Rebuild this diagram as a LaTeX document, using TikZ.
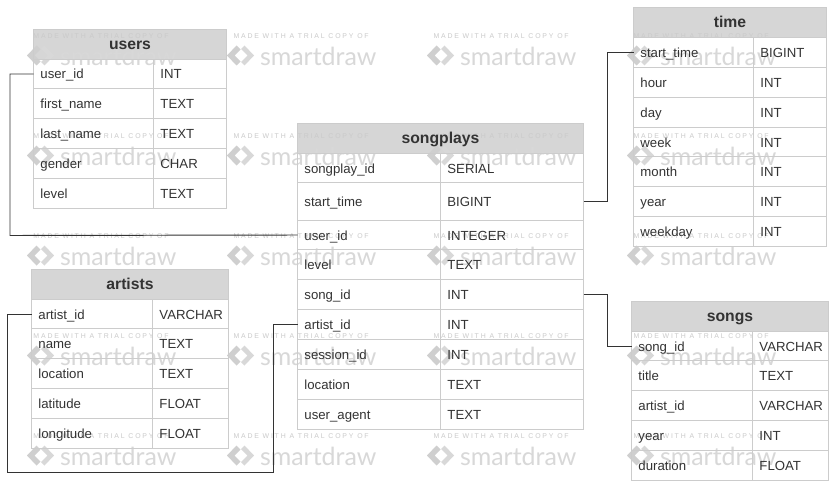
\documentclass[tikz,border=0pt]{standalone}
\usepackage{fontspec}
\setmainfont{Liberation Sans}
\newfontfamily\wmsmall[LetterSpace=26]{Liberation Sans}
\newfontfamily\wmbig{Lato}
\catcode`\_=12
\definecolor{grid}{HTML}{CCCCCC}
\definecolor{head}{HTML}{D6D6D6}
\definecolor{ink}{HTML}{333333}
\definecolor{wmark}{HTML}{D8D8D8}
\definecolor{wmarkb}{HTML}{CFCFCF}
\definecolor{wmtext}{HTML}{CACACA}
\tikzset{
  every node/.style={inner sep=0pt,outer sep=0pt},
  cell/.style={draw=grid,line width=0.72pt,anchor=north west,font=\fontsize{9.9}{12}\selectfont,text=ink,
    inner xsep=5.2pt,align=left,text height=10pt,text depth=2.5pt},
  headcell/.style={draw=grid,line width=0.72pt,anchor=north west,font=\bfseries\fontsize{11.8}{14}\selectfont,text=ink,
    align=center,text height=9.4pt,text depth=2.5pt},
  link/.style={draw=ink,line width=0.72pt,line join=miter},
  wmtop/.style={anchor=west,text=wmtext,font=\wmsmall\fontsize{5.2}{6}\selectfont},
  wmlogo/.style={anchor=base west,text=wmark,font=\wmbig\fontsize{18.7}{22}\selectfont},
}
% \tablebox{id}{x0}{x1}{x2}{top}{header bottom}{title}{rows: bottom/field/type}
\newcommand{\tablebox}[8]{%
  \pgfmathsetmacro{\wA}{(#3-#2)*0.75}%
  \pgfmathsetmacro{\wB}{(#4-#3)*0.75}%
  \pgfmathsetmacro{\wH}{(#4-#2)*0.75}%
  \pgfmathsetmacro{\hH}{(#6-#5)*0.75}%
  \node[headcell,minimum width=\wH pt,minimum height=\hH pt,text width=\wH pt] (#1-head) at (#2,#5) {#7};
  \foreach \bot/\fld/\typ [remember=\bot as \prev (initially #6)] in {#8}{%
    \pgfmathsetmacro{\hR}{(\bot-\prev)*0.75}%
    \node[cell,minimum height=\hR pt,text width=\wA pt-10.4pt] (#1-\fld) at (#2,\prev) {\fld};
    \node[cell,minimum height=\hR pt,text width=\wB pt-10.4pt] (#1-\fld-type) at (#3,\prev) {\typ};
  }%
}
\newcommand{\headfill}[4]{\fill[head] (#1,#3) rectangle (#2,#4);}
\begin{document}
\begin{tikzpicture}[x=0.75pt,y=-0.75pt]
\useasboundingbox (0,0) rectangle (835,492);
\fill[white] (0,0) rectangle (835,492);
\begin{scope}[shift={(0.5,0.5)}]
% header fills lie beneath the watermark
\headfill{33}{226}{29}{59}
\headfill{297}{583}{123}{153}
\headfill{31}{228}{269}{299}
\headfill{633}{826}{7}{37}
\headfill{631}{828}{301}{331}
% watermark
\foreach \ox in {33,233,433,633}{
  \foreach \oy in {36,136,236,336,436}{
    \begin{scope}[shift={(\ox,\oy)}]
      \node[wmtop] (wmt-\ox-\oy) at (0,0) {MADE WITH A TRIAL COPY OF};
      \fill[wmarkb] (-6.5,19) -- (3,9) -- (7,13) -- (1,19) -- (7,25) -- (3,29) -- cycle;
      \fill[wmark] (20.5,19) -- (11,9) -- (7.5,12.5) -- (14,19) -- (7.5,25.5) -- (11,29) -- cycle;
      \node[wmlogo] (wml-\ox-\oy) at (26.5,29) {smartdraw};
    \end{scope}
  }
}
% tables
\tablebox{users}{33}{153}{226}{29}{59}{users}{88/user_id/INT,118/first_name/TEXT,148/last_name/TEXT,178/gender/CHAR,208/level/TEXT}
\tablebox{songplays}{297}{440}{583}{123}{153}{songplays}{182/songplay_id/SERIAL,220/start_time/BIGINT,249/user_id/INTEGER,279/level/TEXT,309/song_id/INT,339/artist_id/INT,369/session_id/INT,399/location/TEXT,429/user_agent/TEXT}
\tablebox{artists}{31}{152}{228}{269}{299}{artists}{328/artist_id/VARCHAR,358/name/TEXT,388/location/TEXT,418/latitude/FLOAT,448/longitude/FLOAT}
\tablebox{time}{633}{753}{826}{7}{37}{time}{67/start_time/BIGINT,97/hour/INT,127/day/INT,156/week/INT,186/month/INT,216/year/INT,246/weekday/INT}
\tablebox{songs}{631}{752}{828}{301}{331}{songs}{360/song_id/VARCHAR,390/title/TEXT,420/artist_id/VARCHAR,450/year/INT,480/duration/FLOAT}
% connectors
\coordinate (ua) at (9.5,235);
\coordinate (aa) at (7,472);
\coordinate (ab) at (273,472);
\draw[link] (users-user_id.west) -| (ua) -- (songplays-user_id.west);
\draw[link] (artists-artist_id.west) -| (aa) -- (ab) |- (songplays-artist_id.west);
\draw[link] (songplays-start_time-type.east) -- ++(24,0) |- (time-start_time.west);
\draw[link] (songplays-song_id-type.east) -- ++(24,0) |- (songs-song_id.west);
\end{scope}
\end{tikzpicture}
\end{document}
